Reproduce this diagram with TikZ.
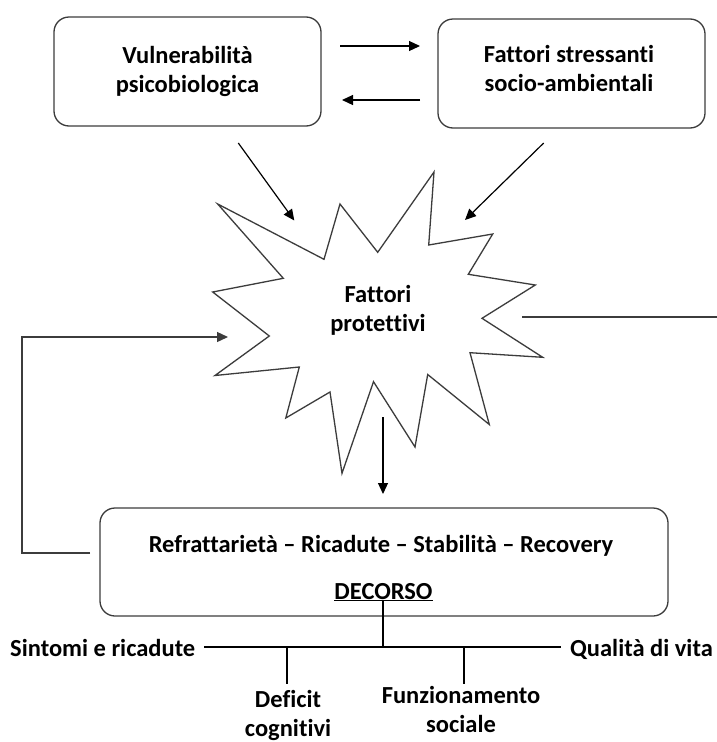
\documentclass[tikz,border=0pt]{standalone}
\usepackage{fontspec}
\setmainfont{Carlito}[Ligatures={NoCommon,NoRequired,NoContextual}]
\usetikzlibrary{arrows.meta}
\definecolor{edgegray}{HTML}{3C3C3C}
\tikzset{
  box/.style={draw=edgegray, line width=1.3pt, rounded corners=15pt, rectangle, inner sep=0pt, outer sep=0pt},
  txt/.style={font=\fontsize{24.5}{29}\selectfont\bfseries, inner sep=0pt, align=center},
  arr/.style={draw=black, line width=1.2pt, -{Triangle[length=11pt,width=10pt]}},
  plain/.style={draw=edgegray, line width=1.3pt},
  tree/.style={draw=black, line width=2pt},
  burst/.style={draw=edgegray, line width=1.3pt, line join=miter, fill=white}
}
\begin{document}
\begin{tikzpicture}[x=1pt,y=-1pt]
\useasboundingbox[fill=white] (0,0) rectangle (717,742);

% boxes
\node[box, minimum width=267pt, minimum height=109pt] (v) at (187.5,71.5) {};
\node[txt, anchor=base] (vt) at (187.5,92) {Vulnerabilità\\psicobiologica};
\node[box, minimum width=267pt, minimum height=109pt] (f) at (571.5,73.5) {};
\node[txt, anchor=base] (ft) at (569,91) {Fattori stressanti\\socio-ambientali};
\node[box, minimum width=568pt, minimum height=108pt] (d) at (384,562) {};
\node[txt, anchor=base] (dt) at (381,552) {Refrattarietà – Ricadute – Stabilità – Recovery};
\node[txt, anchor=base] (decorso) at (383.5,599) {\underline{DECORSO}};

% arrows between boxes
\draw[arr, shorten <=19pt, shorten >=18pt] (v.east |- 0,46) -- (f.west |- 0,46);
\draw[arr, shorten <=18pt, shorten >=21pt] (f.west |- 0,100) -- (v.east |- 0,100);

% burst
\draw[burst] (217.7,204) -- (324,259.3) -- (340,204) -- (377.7,252.3) -- (434,172)
  -- (428.7,245) -- (492.7,234) -- (468.3,274.3) -- (535.3,285) -- (482,318.3)
  -- (542.7,357.3) -- (470,352.7) -- (489.3,424.5) -- (427.7,374.5) -- (415,447)
  -- (373.5,381.7) -- (342,473.3) -- (330,392) -- (285.8,418) -- (299.3,367)
  -- (215,375.5) -- (269.3,336) -- (212.7,292) -- (283.3,278.3) -- cycle;
\node[txt, anchor=base] (p) at (378,331.5) {Fattori\\protettivi};

% arrows into burst
\coordinate (va) at (238.3,143);
\coordinate (pa) at (294.3,220.5);
\coordinate (fa) at (543.7,143);
\coordinate (pb) at (465,220);
\draw[arr] (va) -- (pa);
\draw[arr] (fa) -- (pb);

% burst to course
\coordinate (pd) at (383,417);
\draw[arr, shorten >=14pt] (pd) -- (d.north -| pd);

% feedback loop
\coordinate (pl) at (228,337);
\draw[plain, shorten <=10pt, -{Triangle[length=11pt,width=10pt]}] (d.west |- 0,553) -- (22,553) -- (22,337) -- (pl);

% line to the right
\coordinate (pr) at (522,317);
\coordinate (rend) at (717,317);
\draw[plain] (pr) -- (rend);

% outcome tree
\coordinate (hub) at (383,647);
\node[txt, anchor=base west] (sint) at (10,656) {Sintomi e ricadute};
\node[txt, anchor=base east] (qual) at (713,656) {Qualità di vita};
\node[txt, anchor=base] (defi) at (288,736) {Deficit\\cognitivi};
\node[txt, anchor=base] (funz) at (461,732) {Funzionamento\\sociale};
\draw[tree] (decorso.south -| hub) -- (hub);
\draw[tree, shorten <=9pt, shorten >=9pt] (sint.east |- hub) -- (qual.west |- hub);
\coordinate (b1) at (287,647);
\coordinate (b2) at (464,647);
\draw[tree] (b1) -- (b1 |- 0,684);
\draw[tree] (b2) -- (b2 |- 0,684);
\end{tikzpicture}
\end{document}
